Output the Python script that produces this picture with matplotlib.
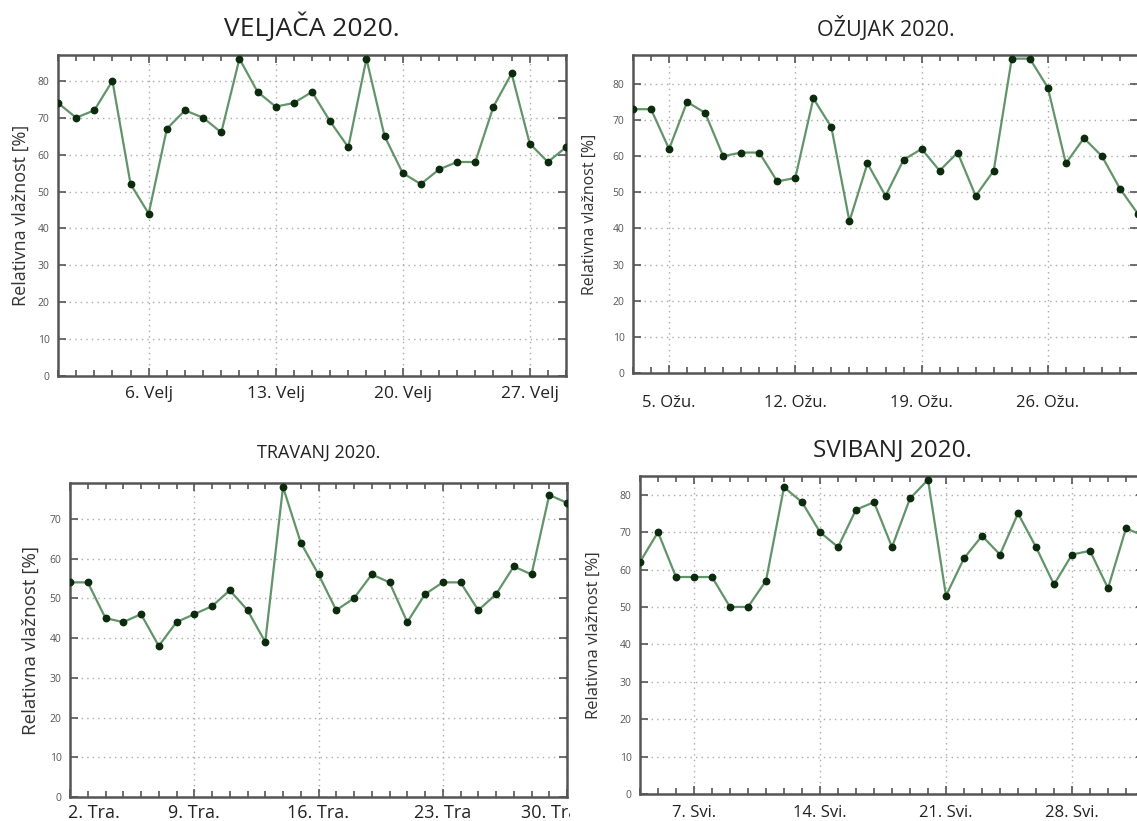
import matplotlib
matplotlib.use("Agg")
import matplotlib.pyplot as plt
import matplotlib.dates as mdates
from matplotlib.transforms import Bbox, TransformedBbox, ScaledTranslation
import numpy as np
import datetime as dt

plt.rcParams['font.family'] = ['Open Sans', 'DejaVu Sans']

# ---------------- data ----------------
feb_start = dt.date(2020, 2, 1)
feb_values = [74, 70, 72, 80, 52, 44, 67, 72, 70, 66, 86, 77, 73, 74, 77, 69, 62, 86,
              65, 55, 52, 56, 58, 58, 73, 82, 63, 58, 62]
feb_ticks = [dt.date(2020, 2, d) for d in (6, 13, 20, 27)]
feb_labels = ["6. Velj", "13. Velj", "20. Velj", "27. Velj"]

mar_start = dt.date(2020, 3, 3)
mar_values = [73, 73, 62, 75, 72, 60, 61, 61, 53, 54, 76, 68, 42, 58, 49, 59, 62, 56,
              61, 49, 56, 87, 87, 79, 58, 65, 60, 51, 44]
mar_ticks = [dt.date(2020, 3, d) for d in (5, 12, 19, 26)]
mar_labels = ["5. Ožu.", "12. Ožu.", "19. Ožu.", "26. Ožu."]

apr_start = dt.date(2020, 4, 2)
apr_values = [54, 54, 45, 44, 46, 38, 44, 46, 48, 52, 47, 39, 78, 64, 56, 47, 50, 56,
              54, 44, 51, 54, 54, 47, 51, 58, 56, 76, 74]
apr_ticks = [dt.date(2020, 4, d) for d in (2, 9, 16, 23, 30)]
apr_labels = ["2. Tra.", "9. Tra.", "16. Tra.", "23. Tra", "30. Tra"]

may_start = dt.date(2020, 5, 4)
may_values = [62, 70, 58, 58, 58, 50, 50, 57, 82, 78, 70, 66, 76, 78, 66, 79, 84, 53,
              63, 69, 64, 75, 66, 56, 64, 65, 55, 71, 69]
may_ticks = [dt.date(2020, 5, d) for d in (7, 14, 21, 28)]
may_labels = ["7. Svi.", "14. Svi.", "21. Svi.", "28. Svi."]

titles = ["VELJAČA 2020.", "OŽUJAK 2020.", "TRAVANJ 2020.", "SVIBANJ 2020."]
ylabel = "Relativna vlažnost [%]"

# ---------------- layout (pixels) ----------------
W, H = 1137, 821
fig = plt.figure(figsize=(W / 100, H / 100), dpi=100)

def px_axes(l, t, r, b):
    return fig.add_axes([l / W, 1 - b / H, (r - l) / W, (b - t) / H])

panels = [
    dict(box=(58, 55, 566, 376), start=feb_start, vals=feb_values, ticks=feb_ticks,
         labels=feb_labels, title=titles[0], tsize=19, tpad=14, lsize=13, lx=21,
         xsize=12.5, xpad=7),
    dict(box=(633, 55, 1138, 373), start=mar_start, vals=mar_values, ticks=mar_ticks,
         labels=mar_labels, title=titles[1], tsize=15.5, tpad=14, lsize=11.5, lx=590,
         xsize=12, xpad=16),
    dict(box=(70, 483, 567, 797), start=apr_start, vals=apr_values, ticks=apr_ticks,
         labels=apr_labels, title=titles[2], tsize=13, tpad=18, lsize=13.5, lx=31,
         xsize=13, xpad=5),
    dict(box=(640, 476, 1144, 794), start=may_start, vals=may_values, ticks=may_ticks,
         labels=may_labels, title=titles[3], tsize=17.5, tpad=14, lsize=12, lx=594,
         xsize=12, xpad=8),
]

line_color = "#62946a"
marker_color = "#0c2a0c"
spine_color = "#555555"

axes = []
for p in panels:
    ax = px_axes(*p["box"])
    dates = [p["start"] + dt.timedelta(days=i) for i in range(len(p["vals"]))]
    ax.plot(dates, p["vals"], color=line_color, lw=1.6, marker='o', ms=4.6,
            mfc=marker_color, mec=marker_color, zorder=3, clip_on=True)
    ax.set_xlim(dates[0], dates[-1])
    ax.set_ylim(0, max(p["vals"]) + 1)
    ax.set_yticks(np.arange(0, max(p["vals"]) + 1, 10))
    ax.set_xticks(p["ticks"])
    ax.set_xticklabels(p["labels"])
    ax.xaxis.set_minor_locator(mdates.DayLocator())
    ax.yaxis.set_minor_locator(matplotlib.ticker.NullLocator())
    ax.grid(True, which='major', linestyle=(0, (1, 3)), color='#aaaaaa', lw=1.0)
    ax.tick_params(axis='both', which='both', direction='in', top=True, right=True,
                   color=spine_color)
    ax.tick_params(axis='both', which='major', length=6, width=1.2)
    ax.tick_params(axis='x', which='minor', length=4, width=1.2)
    ax.tick_params(axis='y', labelsize=7.5, labelcolor='#555555', pad=6)
    ax.tick_params(axis='x', labelsize=p["xsize"], labelcolor='#222222', pad=p["xpad"])
    for s in ax.spines.values():
        s.set_color(spine_color)
        s.set_linewidth(1.8)
    ax.set_title(p["title"], fontsize=p["tsize"], color='#222222', pad=p["tpad"])
    ax.set_ylabel(ylabel, fontsize=p["lsize"], color='#333333')
    l, t, r, b = p["box"]
    ax.yaxis.set_label_coords((p["lx"] - l) / (r - l), 0.5)
    ax.yaxis.label.set_verticalalignment('center')
    axes.append(ax)

# April: first label starts at the spine, last label is cropped at the panel edge
ax3 = axes[2]
lbls = ax3.get_xticklabels()
lbls[0].set_horizontalalignment('left')
lbls[0].set_transform(lbls[0].get_transform() + ScaledTranslation(-2 / 100, 0, fig.dpi_scale_trans))
lbls[-1].set_horizontalalignment('right')
lbls[-1].set_transform(lbls[-1].get_transform() + ScaledTranslation(11 / 100, 0, fig.dpi_scale_trans))
clip = TransformedBbox(Bbox([[0, 0], [570 / W, 1]]), fig.transFigure)
for lbl in lbls:
    lbl.set_clip_box(clip)
    lbl.set_clip_on(True)

fig.savefig("out.png", dpi=100)
